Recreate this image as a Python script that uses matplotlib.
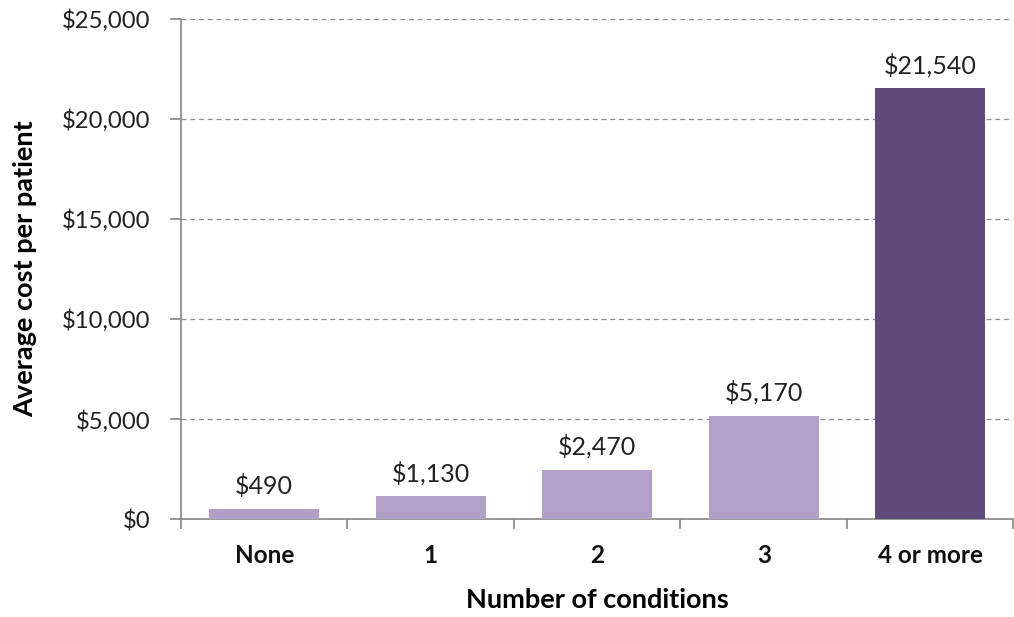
import numpy as np
import matplotlib
matplotlib.use("Agg")
import matplotlib.pyplot as plt

plt.rcParams['font.family'] = ['Lato', 'DejaVu Sans']

# data
categories = ['None', '1', '2', '3', '4 or more']
costs = [490, 1130, 2470, 5170, 21540]
bar_colors = ['#b1a0c7', '#b1a0c7', '#b1a0c7', '#b1a0c7', '#604a7b']
yticks = [0, 5000, 10000, 15000, 20000, 25000]

fig = plt.figure(figsize=(10.14, 6.17), dpi=100)
ax = fig.add_axes([0.1785, 0.1588, 0.821, 0.8104])

x = np.arange(len(categories))
ax.bar(x, costs, width=0.66, color=bar_colors, zorder=3)

for xi, v in zip(x, costs):
    ax.text(xi, v + 550, '${:,}'.format(v), ha='center', va='bottom',
            fontsize=18, color='#222222')

ax.set_xlim(-0.5, len(categories) - 0.5)
ax.set_ylim(0, 25000)
ax.set_yticks(yticks)
ax.set_yticklabels(['${:,}'.format(t) for t in yticks], fontsize=17.2, color='#222222')

# category labels in middle, ticks on boundaries
ax.set_xticks(np.arange(-0.5, len(categories)), minor=False)
ax.set_xticklabels([])
ax.set_xticks(x, minor=True)
ax.set_xticklabels(categories, minor=True, fontsize=17.5, fontweight='bold', color='#111111')
ax.tick_params(axis='x', which='minor', length=0, pad=18)
ax.tick_params(axis='x', which='major', length=7, color='#868686', width=1.2)
ax.tick_params(axis='y', length=8, color='#868686', width=1.2, pad=14)

ax.yaxis.grid(True, linestyle=(0, (4, 3)), color='#8c8c8c', linewidth=0.9, zorder=0)
for s in ['top', 'right']:
    ax.spines[s].set_visible(False)
for s in ['left', 'bottom']:
    ax.spines[s].set_color('#868686')
    ax.spines[s].set_linewidth(1.2)

ax.set_xlabel('Number of conditions', fontsize=19.5, fontweight='bold', labelpad=15)
ax.set_ylabel('Average cost per patient', fontsize=19.5, fontweight='bold', labelpad=18)

fig.savefig('out.png', dpi=100)
